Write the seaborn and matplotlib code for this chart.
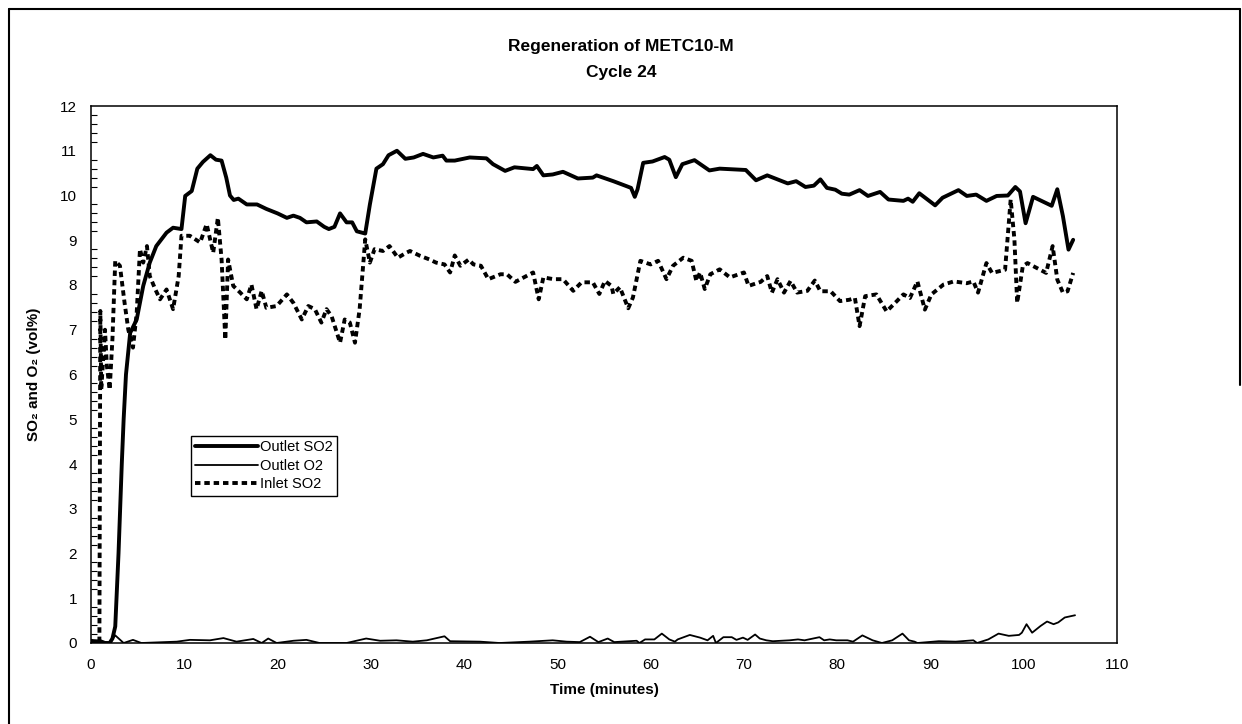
import matplotlib
matplotlib.use("Agg")
import matplotlib.pyplot as plt
import seaborn as sns
import numpy as np
import pandas as pd
from matplotlib.lines import Line2D
from matplotlib.ticker import MultipleLocator

# ---------------- data ----------------
title_lines = ["Regeneration of METC10-M", "Cycle 24"]
x_label = "Time (minutes)"
y_label = "SO\u2082 and O\u2082 (vol%)"
series_names = ["Outlet SO2", "Outlet O2", "Inlet SO2"]
x_ticks = [0, 10, 20, 30, 40, 50, 60, 70, 80, 90, 100, 110]
y_ticks = [0, 1, 2, 3, 4, 5, 6, 7, 8, 9, 10, 11, 12]

outlet_so2_t = [0, 0.5, 1.0, 1.5, 2.0, 2.3, 2.6, 2.95, 3.3, 3.5, 3.75, 4.2, 4.9, 5.6, 6.3,
                7.0, 8.1, 8.8, 9.7, 10.1, 10.8, 11.4, 12.0, 12.8, 13.4, 14.0, 14.5, 14.9,
                15.3, 15.8, 16.7, 17.8, 18.8, 20.0, 21.0, 21.7, 22.4, 23.1, 24.2, 25.0,
                25.5, 26.1, 26.7, 27.4, 28.0, 28.5, 29.4, 29.9, 30.6, 31.3, 31.9, 32.8,
                33.7, 34.6, 35.6, 36.7, 37.7, 38.1, 39.0, 40.6, 42.4, 43.1, 44.4, 45.4,
                47.4, 47.8, 48.5, 49.5, 50.6, 52.2, 53.8, 54.2, 56.0, 57.4, 57.9, 58.3,
                58.6, 59.2, 60.2, 61.5, 62.0, 62.7, 63.4, 64.7, 66.3, 67.4, 70.2, 71.3,
                72.5, 73.6, 74.7, 75.6, 76.6, 77.5, 78.2, 78.9, 79.8, 80.5, 81.3, 82.4,
                83.3, 84.6, 85.5, 87.1, 87.6, 88.1, 88.8, 90.5, 91.3, 93.0, 93.9, 94.9,
                96.0, 97.1, 98.3, 99.1, 99.6, 100.2, 101.0, 101.9, 103.0, 103.6, 104.2,
                104.8, 105.3]
outlet_so2_v = [0.05, 0.03, 0.04, 0.0, 0.0, 0.1, 0.37, 2.0, 4.0, 5.0, 6.0, 6.93, 7.23, 7.98, 8.5,
                8.87, 9.17, 9.28, 9.25, 9.99, 10.1, 10.6, 10.75, 10.9, 10.8, 10.78, 10.4, 10.0,
                9.9, 9.93, 9.8, 9.8, 9.7, 9.6, 9.5, 9.55, 9.5, 9.4, 9.42, 9.3,
                9.25, 9.3, 9.6, 9.4, 9.4, 9.2, 9.15, 9.8, 10.6, 10.7, 10.9, 11.0,
                10.82, 10.85, 10.93, 10.85, 10.89, 10.78, 10.78, 10.85, 10.83, 10.7, 10.55, 10.63,
                10.59, 10.66, 10.45, 10.47, 10.53, 10.38, 10.40, 10.45, 10.32, 10.21, 10.17, 9.97,
                10.14, 10.73, 10.76, 10.86, 10.8, 10.41, 10.7, 10.79, 10.56, 10.6, 10.57, 10.34,
                10.45, 10.36, 10.27, 10.32, 10.19, 10.22, 10.36, 10.17, 10.13, 10.04, 10.02, 10.12,
                9.99, 10.08, 9.91, 9.88, 9.93, 9.86, 10.05, 9.78, 9.95, 10.12, 9.99, 10.02,
                9.88, 9.99, 10.0, 10.19, 10.09, 9.38, 9.97, 9.88, 9.77, 10.14, 9.54,
                8.79, 9.01]

outlet_o2_t = [0, 0.5, 1.0, 1.5, 2.0, 2.6, 3.5, 4.5, 5.4, 9.2, 10.6, 12.75, 14.2, 15.6, 17.4,
               18.3, 19.0, 19.9, 21.7, 23.1, 24.5, 27.4, 29.5, 31.0, 32.75, 34.5, 36.0, 37.9,
               38.5, 41.7, 43.8, 47.0, 49.5, 51.0, 52.4, 53.5, 54.4, 55.4, 56.1, 58.5, 58.8,
               59.4, 60.4, 61.2, 62.0, 62.6, 62.9, 64.2, 65.3, 66.1, 66.7, 67.0, 67.8, 68.7,
               69.2, 69.9, 70.4, 71.2, 71.7, 72.4, 73.1, 74.9, 75.8, 76.5, 78.1, 78.6, 79.2,
               79.9, 81.1, 81.7, 82.7, 83.8, 84.8, 85.9, 87.0, 87.7, 88.3, 88.6, 90.9, 92.7,
               94.6, 95.0, 96.2, 97.3, 98.4, 99.5, 99.8, 100.3, 100.9, 101.8, 102.5, 103.2,
               103.7, 104.4, 105.5]
outlet_o2_v = [0.05, 0.06, 0.04, 0.02, 0.0, 0.17, 0.0, 0.07, 0.0, 0.03, 0.07, 0.06, 0.11, 0.03, 0.09,
               0.0, 0.1, 0.0, 0.05, 0.07, 0.0, 0.0, 0.1, 0.05, 0.06, 0.03, 0.06, 0.15,
               0.04, 0.03, 0.0, 0.03, 0.06, 0.03, 0.02, 0.14, 0.02, 0.1, 0.02, 0.05, 0.0,
               0.08, 0.08, 0.21, 0.08, 0.03, 0.08, 0.18, 0.12, 0.06, 0.16, 0.0, 0.13, 0.13,
               0.07, 0.12, 0.07, 0.19, 0.1, 0.06, 0.04, 0.06, 0.08, 0.06, 0.13, 0.06, 0.08,
               0.06, 0.06, 0.03, 0.17, 0.06, 0.0, 0.06, 0.21, 0.06, 0.03, 0.0, 0.04, 0.03,
               0.06, 0.0, 0.08, 0.21, 0.16, 0.18, 0.23, 0.42, 0.23, 0.38, 0.48, 0.42,
               0.46, 0.57, 0.62]

inlet_so2_t = [0, 0.9, 1.0, 1.1, 1.5, 1.7, 2.0, 2.3, 2.6, 3.1, 3.6, 4.0, 4.5, 4.9, 5.25, 5.6,
               6.0, 6.3, 6.9, 7.4, 8.1, 8.8, 9.4, 9.7, 10.6, 11.7, 12.4, 13.1, 13.6, 14.0,
               14.4, 14.7, 15.25, 16.0, 16.7, 17.2, 17.75, 18.3, 18.8, 19.9, 21.0, 21.7, 22.6,
               23.3, 24.0, 24.7, 25.25, 25.8, 26.7, 27.2, 27.75, 28.3, 28.8, 29.4, 29.9, 30.4,
               31.3, 32.0, 32.9, 33.8, 34.2, 35.3, 36.3, 37.0, 37.9, 38.5, 39.0, 39.6, 40.5,
               41.0, 41.8, 42.6, 43.9, 44.6, 45.5, 46.4, 47.4, 48.0, 48.5, 49.6, 50.6, 51.7,
               52.6, 53.8, 54.5, 55.1, 55.8, 56.0, 56.7, 57.6, 58.1, 58.9, 60.0, 60.8, 61.7,
               62.4, 63.5, 64.4, 64.9, 65.3, 65.8, 66.4, 67.4, 68.5, 70.0, 70.5, 71.8, 72.5,
               73.0, 73.6, 74.3, 75.0, 75.7, 76.8, 77.6, 78.2, 79.3, 80.3, 81.3, 81.9, 82.4,
               83.0, 84.2, 85.3, 86.4, 87.1, 87.8, 88.6, 89.4, 90.1, 91.4, 92.5, 93.9, 94.6,
               95.1, 96.0, 96.6, 98.0, 98.6, 99.0, 99.3, 99.9, 100.4, 102.4, 103.1, 103.6,
               104.2, 104.7, 105.3]
inlet_so2_v = [0.0, 0.0, 7.42, 5.66, 7.0, 6.2, 5.66, 6.8, 8.54, 8.43, 7.6, 7.0, 6.6, 7.38, 8.8, 8.5,
               8.87, 8.2, 7.9, 7.68, 7.9, 7.46, 8.2, 9.1, 9.1, 8.95, 9.36, 8.72, 9.5, 8.57,
               6.78, 8.57, 7.98, 7.83, 7.68, 8.01, 7.46, 7.87, 7.49, 7.53, 7.79, 7.6, 7.23,
               7.53, 7.46, 7.16, 7.46, 7.3, 6.71, 7.23, 7.16, 6.71, 7.46, 9.02, 8.5, 8.8,
               8.76, 8.87, 8.61, 8.72, 8.76, 8.65, 8.57, 8.50, 8.46, 8.28, 8.66, 8.43, 8.57,
               8.46, 8.43, 8.13, 8.24, 8.24, 8.07, 8.17, 8.28, 7.68, 8.17, 8.13, 8.13, 7.87,
               8.06, 8.06, 7.80, 8.09, 7.98, 7.80, 7.95, 7.48, 7.72, 8.54, 8.46, 8.54, 8.13,
               8.43, 8.61, 8.54, 8.09, 8.28, 7.91, 8.24, 8.35, 8.17, 8.28, 7.98, 8.07, 8.20,
               7.83, 8.13, 7.83, 8.09, 7.83, 7.87, 8.10, 7.86, 7.86, 7.64, 7.67, 7.71, 7.08,
               7.75, 7.79, 7.41, 7.64, 7.79, 7.71, 8.08, 7.45, 7.79, 8.01, 8.08, 8.04, 8.08,
               7.83, 8.49, 8.27, 8.34, 9.91, 9.02, 7.60, 8.42, 8.49, 8.27, 8.87, 8.12,
               7.83, 7.86, 8.27]

assert len(outlet_so2_t) == len(outlet_so2_v)
assert len(outlet_o2_t) == len(outlet_o2_v)
assert len(inlet_so2_t) == len(inlet_so2_v)

# ---------------- figure ----------------
sns.set_theme(style="white")
plt.rcParams["font.family"] = ["Liberation Sans", "DejaVu Sans"]
plt.rcParams["text.color"] = "black"
plt.rcParams["axes.labelcolor"] = "black"
plt.rcParams["xtick.color"] = "black"
plt.rcParams["ytick.color"] = "black"

W, H = 1242, 724
fig = plt.figure(figsize=(W / 100, H / 100), dpi=100)
fig.patch.set_facecolor("white")

ax_l, ax_r, ax_t, ax_b = 91, 1117, 106, 643
ax = fig.add_axes([ax_l / W, 1 - ax_b / H, (ax_r - ax_l) / W, (ax_b - ax_t) / H])
ax.set_facecolor("white")

sns.lineplot(x=outlet_so2_t, y=outlet_so2_v, ax=ax, color="black", linewidth=2.8,
             sort=False, estimator=None, label=series_names[0])
sns.lineplot(x=outlet_o2_t, y=outlet_o2_v, ax=ax, color="black", linewidth=1.3,
             sort=False, estimator=None, label=series_names[1])
sns.lineplot(x=inlet_so2_t, y=inlet_so2_v, ax=ax, color="black", linewidth=2.8,
             sort=False, estimator=None, label=series_names[2])
ax.lines[2].set_linestyle((0, (1.4, 1.0)))
for ln in ax.lines:
    ln.set_solid_joinstyle("round")
    ln.set_dash_joinstyle("round")

ax.set_xlim(0, 110)
ax.set_ylim(0, 12)
ax.set_xticks(x_ticks)
ax.set_yticks(y_ticks)
ax.set_xticklabels([str(v) for v in x_ticks])
ax.set_yticklabels([str(v) for v in y_ticks])
ax.yaxis.set_minor_locator(MultipleLocator(0.2))

for s in ax.spines.values():
    s.set_visible(True)
    s.set_color("black")
    s.set_linewidth(1.1)

ax.tick_params(axis="both", which="major", direction="inout", length=8, width=1.0,
               color="black", labelsize=11, labelcolor="black")
ax.tick_params(axis="x", which="major", pad=7)
ax.tick_params(axis="y", which="major", pad=6)
ax.tick_params(axis="y", which="minor", direction="in", length=4, width=0.8,
               color="black", left=True)

ax.set_xlabel(x_label, fontsize=11, fontweight="bold", labelpad=8, color="black")
ax.set_ylabel(y_label, fontsize=11, fontweight="bold", labelpad=14, color="black")

leg = ax.legend(handles=ax.lines[:3], labels=series_names, loc="upper left",
                bbox_to_anchor=((191 - ax_l) / (ax_r - ax_l), (ax_b - 436) / (ax_b - ax_t)),
                frameon=True, fancybox=False, shadow=False, fontsize=10.5,
                handlelength=4.3, handletextpad=0.1, borderpad=0.3, labelspacing=0.3,
                borderaxespad=0.0)
leg.get_frame().set_edgecolor("black")
leg.get_frame().set_linewidth(1.0)
leg.get_frame().set_facecolor("white")
leg.get_frame().set_alpha(1.0)
for t in leg.get_texts():
    t.set_color("black")

# title
fig.text(621 / W, 1 - 47 / H, title_lines[0], ha="center", va="center",
         fontsize=12.5, fontweight="bold", color="black")
fig.text(621 / W, 1 - 73 / H, title_lines[1], ha="center", va="center",
         fontsize=12.5, fontweight="bold", color="black")

# outer chart frame
frame_kw = dict(color="black", linewidth=1.5, transform=fig.transFigure)
fig.add_artist(Line2D([9 / W, 9 / W], [1 - 9 / H, 0], **frame_kw))
fig.add_artist(Line2D([9 / W, 1240 / W], [1 - 9 / H, 1 - 9 / H], **frame_kw))
fig.add_artist(Line2D([1240 / W, 1240 / W], [1 - 9 / H, 1 - 385 / H], **frame_kw))

fig.savefig("out.png", dpi=100, facecolor="white")
